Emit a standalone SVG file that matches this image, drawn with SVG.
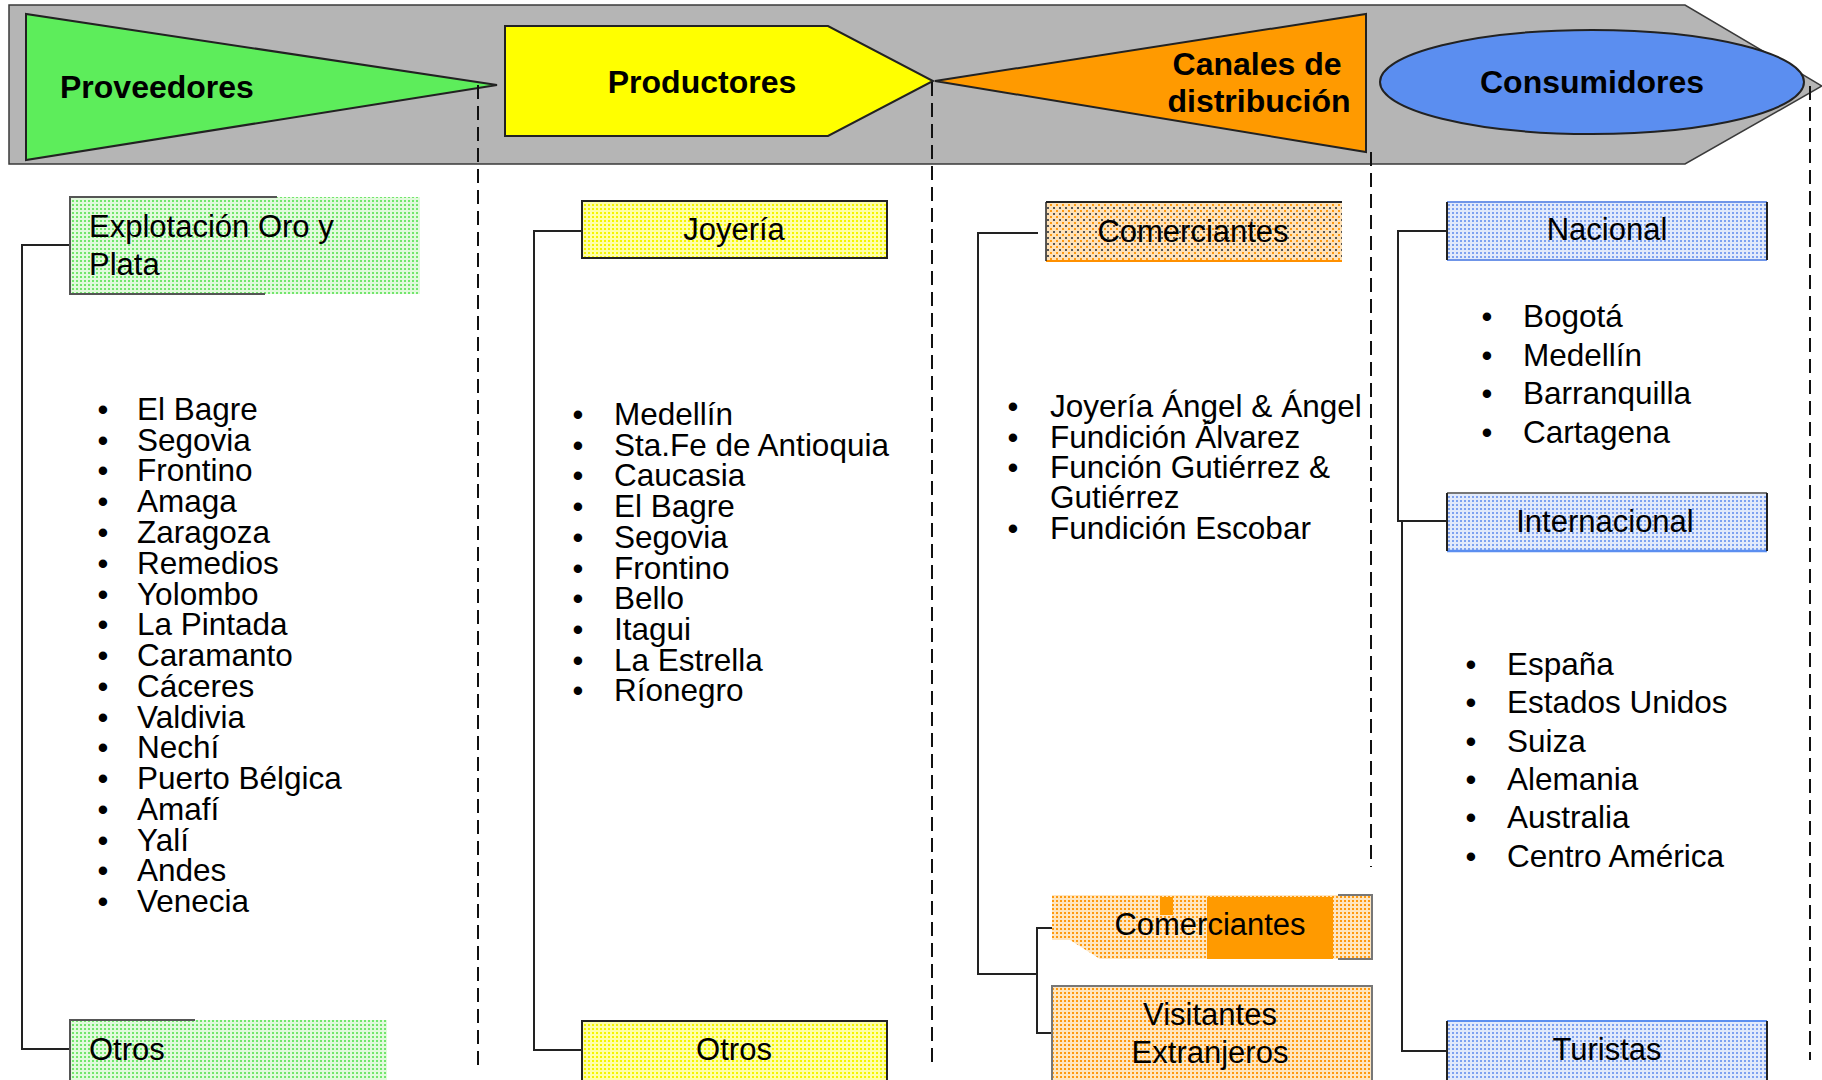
<svg xmlns="http://www.w3.org/2000/svg" width="1822" height="1080" viewBox="0 0 1822 1080">
  <defs>
    <pattern id="pGreen" width="4" height="4" patternUnits="userSpaceOnUse">
      <rect width="4" height="4" fill="#e2fadd"/>
      <rect width="2" height="2" fill="#72e66c"/>
    </pattern>
    <pattern id="pYellow" width="4" height="4" patternUnits="userSpaceOnUse">
      <rect width="4" height="4" fill="#ffffa8"/>
      <rect width="2" height="2" fill="#f5f500"/>
    </pattern>
    <pattern id="pOrange" width="4" height="4" patternUnits="userSpaceOnUse">
      <rect width="4" height="4" fill="#ffe6c0"/>
      <rect width="2" height="2" fill="#ff9a10"/>
    </pattern>
    <pattern id="pOrangeDark" width="6" height="6" patternUnits="userSpaceOnUse">
      <rect width="6" height="6" fill="#ffe2b8"/>
      <rect width="2" height="2" fill="#ff9a10"/>
      <rect x="3" y="3" width="2" height="2" fill="#555"/>
    </pattern>
    <pattern id="pBlue" width="4" height="4" patternUnits="userSpaceOnUse">
      <rect width="4" height="4" fill="#e2eafb"/>
      <rect width="2" height="2" fill="#7ea2f0"/>
    </pattern>
  </defs>
  <style>
    .title { font-family: "Liberation Sans", Arial, sans-serif; font-weight: bold; font-size: 32px; fill: #000; }
    .box { font-family: "Liberation Sans", Arial, sans-serif; font-size: 31px; fill: #000; }
    .list { font-family: "Liberation Sans", Arial, sans-serif; font-size: 31.5px; fill: #000; }
    .bul { font-family: "Liberation Sans", Arial, sans-serif; font-size: 31px; fill: #000; text-anchor: middle; }
    .conn { fill: none; stroke: #222; stroke-width: 2; }
    .dash { fill: none; stroke: #111; stroke-width: 2; stroke-dasharray: 14 7; }
  </style>
  <rect width="1822" height="1080" fill="#ffffff"/>

  <!-- banner -->
  <g id="banner">
    <polygon points="9,5 1685,5 1822,86 1685,164 9,164" fill="#b5b5b5" stroke="#3a3a3a" stroke-width="1.5"/>
  </g>

  <g id="proveedores">
    <polygon points="26,14 26,160 497,85" fill="#5ded5b" stroke="#222" stroke-width="2"/>
    <text class="title" x="60" y="98">Proveedores</text>
  </g>
  <g id="productores">
    <polygon points="505,26 828,26 933,81 828,136 505,136" fill="#ffff00" stroke="#222" stroke-width="2"/>
    <text class="title" x="702" y="93" text-anchor="middle">Productores</text>
  </g>
  <g id="canales">
    <polygon points="935,81 1366,14 1366,152" fill="#ff9a00" stroke="#222" stroke-width="2"/>
    <text class="title" x="1257" y="75" text-anchor="middle">Canales de</text>
    <text class="title" x="1259" y="112" text-anchor="middle">distribución</text>
  </g>
  <g id="consumidores">
    <ellipse cx="1592" cy="82" rx="212" ry="52" fill="#5b8ef0" stroke="#222" stroke-width="2"/>
    <text class="title" x="1592" y="93" text-anchor="middle">Consumidores</text>
  </g>

  <!-- connectors -->
  <g id="connectors">
    <path class="conn" d="M70,245 H22 V1049 H70" stroke="#555"/>
    <path class="conn" d="M582,231 H534 V1050 H582"/>
    <path class="conn" d="M1038,233 H978 V974 H1037" stroke="#444"/>
    <path class="conn" d="M1052,928 H1037 V1033 H1052"/>
    <path class="conn" d="M1447,231 H1398 V521 H1447"/>
    <path class="conn" d="M1402,521 V1051 H1447"/>
    <path class="dash" d="M478,85 V1065"/>
    <path class="dash" d="M932,82 V1065"/>
    <path class="dash" d="M1371,152 V867"/>
    <path class="dash" d="M1810,86 V1060"/>
  </g>

  <!-- Proveedores column -->
  <g id="explotacion">
    <rect x="70" y="197" width="350" height="97" fill="url(#pGreen)"/>
    <path d="M277,197 H70 V294 H265" fill="none" stroke="#555" stroke-width="2"/>
    <text class="box" x="89" y="237">Explotación Oro y</text>
    <text class="box" x="89" y="275">Plata</text>
  </g>
  <g id="lista-proveedores">
    <text class="bul" x="103" y="420">•</text><text class="list" x="137" y="420">El Bagre</text>
    <text class="bul" x="103" y="451">•</text><text class="list" x="137" y="451">Segovia</text>
    <text class="bul" x="103" y="481">•</text><text class="list" x="137" y="481">Frontino</text>
    <text class="bul" x="103" y="512">•</text><text class="list" x="137" y="512">Amaga</text>
    <text class="bul" x="103" y="543">•</text><text class="list" x="137" y="543">Zaragoza</text>
    <text class="bul" x="103" y="574">•</text><text class="list" x="137" y="574">Remedios</text>
    <text class="bul" x="103" y="605">•</text><text class="list" x="137" y="605">Yolombo</text>
    <text class="bul" x="103" y="635">•</text><text class="list" x="137" y="635">La Pintada</text>
    <text class="bul" x="103" y="666">•</text><text class="list" x="137" y="666">Caramanto</text>
    <text class="bul" x="103" y="697">•</text><text class="list" x="137" y="697">Cáceres</text>
    <text class="bul" x="103" y="728">•</text><text class="list" x="137" y="728">Valdivia</text>
    <text class="bul" x="103" y="758">•</text><text class="list" x="137" y="758">Nechí</text>
    <text class="bul" x="103" y="789">•</text><text class="list" x="137" y="789">Puerto Bélgica</text>
    <text class="bul" x="103" y="820">•</text><text class="list" x="137" y="820">Amafí</text>
    <text class="bul" x="103" y="851">•</text><text class="list" x="137" y="851">Yalí</text>
    <text class="bul" x="103" y="881">•</text><text class="list" x="137" y="881">Andes</text>
    <text class="bul" x="103" y="912">•</text><text class="list" x="137" y="912">Venecia</text>
  </g>
  <g id="otros-proveedores">
    <rect x="70" y="1020" width="317" height="62" fill="url(#pGreen)"/>
    <path d="M195,1020 H70 V1082" fill="none" stroke="#555" stroke-width="2"/>
    <text class="box" x="89" y="1060">Otros</text>
  </g>

  <!-- Productores column -->
  <g id="joyeria">
    <rect x="582" y="201" width="305" height="57" fill="url(#pYellow)" stroke="#222" stroke-width="2"/>
    <text class="box" x="734" y="240" text-anchor="middle">Joyería</text>
  </g>
  <g id="lista-productores">
    <text class="bul" x="578" y="425">•</text><text class="list" x="614" y="425">Medellín</text>
    <text class="bul" x="578" y="456">•</text><text class="list" x="614" y="456">Sta.Fe de Antioquia</text>
    <text class="bul" x="578" y="486">•</text><text class="list" x="614" y="486">Caucasia</text>
    <text class="bul" x="578" y="517">•</text><text class="list" x="614" y="517">El Bagre</text>
    <text class="bul" x="578" y="548">•</text><text class="list" x="614" y="548">Segovia</text>
    <text class="bul" x="578" y="579">•</text><text class="list" x="614" y="579">Frontino</text>
    <text class="bul" x="578" y="609">•</text><text class="list" x="614" y="609">Bello</text>
    <text class="bul" x="578" y="640">•</text><text class="list" x="614" y="640">Itagui</text>
    <text class="bul" x="578" y="671">•</text><text class="list" x="614" y="671">La Estrella</text>
    <text class="bul" x="578" y="701">•</text><text class="list" x="614" y="701">Ríonegro</text>
  </g>
  <g id="otros-productores">
    <rect x="582" y="1021" width="305" height="62" fill="url(#pYellow)" stroke="#222" stroke-width="2"/>
    <text class="box" x="734" y="1060" text-anchor="middle">Otros</text>
  </g>

  <!-- Canales column -->
  <g id="comerciantes-1">
    <rect x="1046" y="202" width="296" height="59" fill="url(#pOrangeDark)"/>
    <line x1="1046" y1="202" x2="1342" y2="202" stroke="#222" stroke-width="2"/>
    <line x1="1046" y1="261" x2="1342" y2="261" stroke="#ff9000" stroke-width="2"/>
    <line x1="1046" y1="202" x2="1046" y2="261" stroke="#222" stroke-width="1.5"/>
    <text class="box" x="1193" y="242" text-anchor="middle">Comerciantes</text>
  </g>
  <g id="lista-canales">
    <text class="bul" x="1013" y="417">•</text><text class="list" x="1050" y="417">Joyería Ángel &amp; Ángel</text>
    <text class="bul" x="1013" y="448">•</text><text class="list" x="1050" y="448">Fundición Álvarez</text>
    <text class="bul" x="1013" y="478">•</text><text class="list" x="1050" y="478">Función Gutiérrez &amp;</text>
    <text class="list" x="1050" y="508">Gutiérrez</text>
    <text class="bul" x="1013" y="539">•</text><text class="list" x="1050" y="539">Fundición Escobar</text>
  </g>
  <g id="comerciantes-2">
    <polygon points="1052,895 1372,895 1372,959 1100,959 1070,940 1052,940" fill="url(#pOrange)"/>
    <rect x="1207" y="897" width="126" height="62" fill="#ff9a00"/>
    <rect x="1160" y="897" width="13" height="18" fill="#ff9a00"/>
    <path d="M1338,895 H1372 V959 H1338" fill="none" stroke="#777" stroke-width="2"/>
    <text class="box" x="1210" y="935" text-anchor="middle">Comerciantes</text>
  </g>
  <g id="visitantes">
    <rect x="1052" y="986" width="320" height="96" fill="url(#pOrange)"/>
    <path d="M1052,1082 V986 H1372 V1082" fill="none" stroke="#777" stroke-width="2"/>
    <text class="box" x="1210" y="1025" text-anchor="middle">Visitantes</text>
    <text class="box" x="1210" y="1063" text-anchor="middle">Extranjeros</text>
  </g>

  <!-- Consumidores column -->
  <g id="nacional">
    <rect x="1447" y="202" width="320" height="58" fill="url(#pBlue)"/>
    <path d="M1447,202 H1767 M1447,260 H1767" stroke="#6f95e8" stroke-width="2"/>
    <path d="M1447,202 V260 M1767,202 V260" stroke="#222" stroke-width="2"/>
    <text class="box" x="1607" y="240" text-anchor="middle">Nacional</text>
  </g>
  <g id="lista-nacional">
    <text class="bul" x="1487" y="327">•</text><text class="list" x="1523" y="327">Bogotá</text>
    <text class="bul" x="1487" y="366">•</text><text class="list" x="1523" y="366">Medellín</text>
    <text class="bul" x="1487" y="404">•</text><text class="list" x="1523" y="404">Barranquilla</text>
    <text class="bul" x="1487" y="443">•</text><text class="list" x="1523" y="443">Cartagena</text>
  </g>
  <g id="internacional">
    <rect x="1447" y="493" width="320" height="58" fill="url(#pBlue)"/>
    <path d="M1447,493 H1767" stroke="#777" stroke-width="2"/>
    <path d="M1447,551 H1767" stroke="#5b8ef0" stroke-width="2.5"/>
    <path d="M1447,493 V551 M1767,493 V551" stroke="#222" stroke-width="2"/>
    <text class="box" x="1605" y="532" text-anchor="middle">Internacional</text>
  </g>
  <g id="lista-internacional">
    <text class="bul" x="1471" y="675">•</text><text class="list" x="1507" y="675">España</text>
    <text class="bul" x="1471" y="713">•</text><text class="list" x="1507" y="713">Estados Unidos</text>
    <text class="bul" x="1471" y="752">•</text><text class="list" x="1507" y="752">Suiza</text>
    <text class="bul" x="1471" y="790">•</text><text class="list" x="1507" y="790">Alemania</text>
    <text class="bul" x="1471" y="828">•</text><text class="list" x="1507" y="828">Australia</text>
    <text class="bul" x="1471" y="867">•</text><text class="list" x="1507" y="867">Centro América</text>
  </g>
  <g id="turistas">
    <rect x="1447" y="1021" width="320" height="62" fill="url(#pBlue)"/>
    <path d="M1447,1021 H1767" stroke="#5b8ef0" stroke-width="2"/>
    <path d="M1447,1021 V1082 M1767,1021 V1082" stroke="#222" stroke-width="2"/>
    <text class="box" x="1607" y="1060" text-anchor="middle">Turistas</text>
  </g>
</svg>
